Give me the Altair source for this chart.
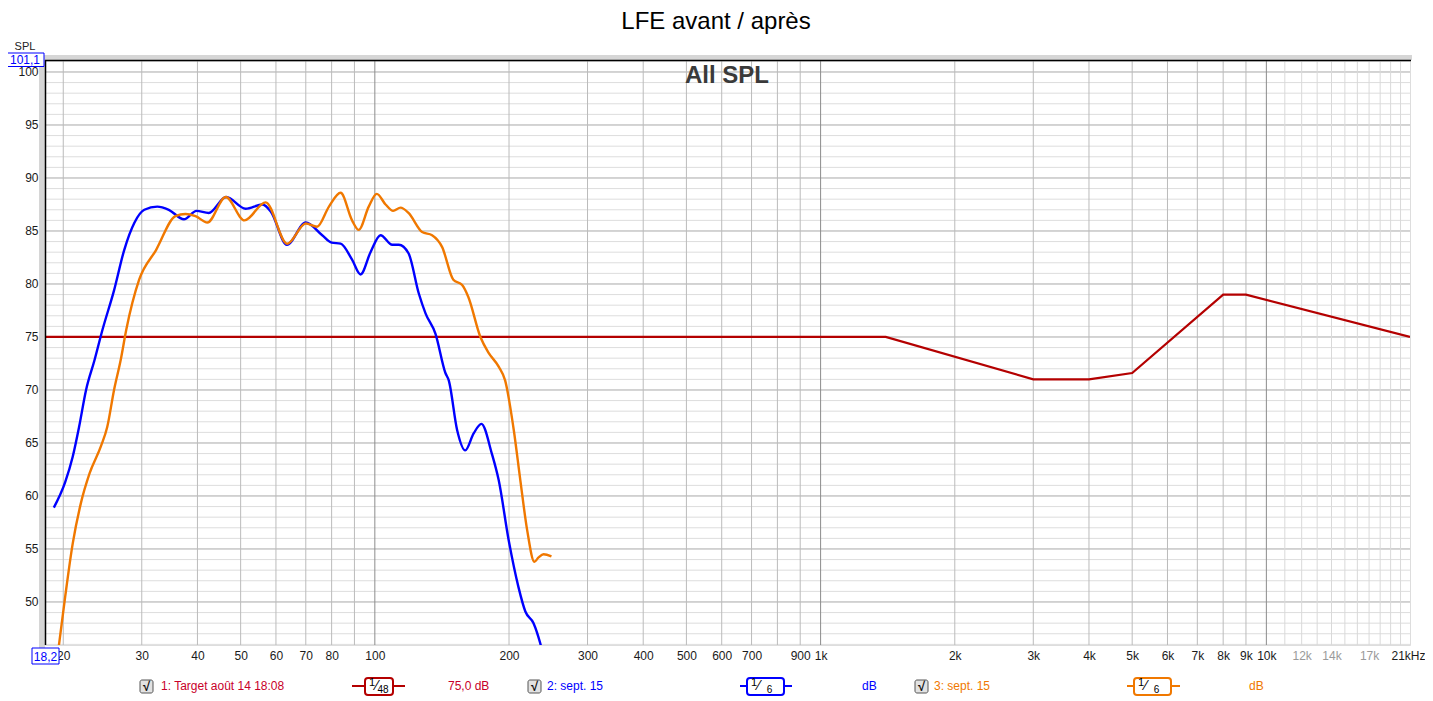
import altair as alt
import pandas as pd

# ---------------- data ----------------
target_f = [18.2, 1400, 3000, 4000, 5000, 8000, 9000, 21000]
target_db = [75.0, 75.0, 71.0, 71.0, 71.6, 79.0, 79.0, 75.0]

blue_f = [19.05, 20.2, 21.0, 21.7, 22.5, 23.5, 24.5, 26.0, 27.4, 28.9, 30.4, 32.5, 34.5,
          37.3, 39.8, 42.4, 46.4, 51.3, 56.0, 58.5, 63.5, 70.0, 76.2, 80.0, 83.8, 88.9,
          92.9, 97.8, 103.0, 109.4, 113.2, 119.0, 125.5, 130.0, 136.8, 144.0, 146.5,
          153.0, 159.5, 166.6, 173.4, 183.0, 189.6, 199.7, 210.0, 217.6, 227.0, 235.0, 238.0]
blue_db = [58.9, 61.3, 63.7, 66.5, 70.0, 72.8, 75.7, 79.4, 83.2, 85.8, 87.0, 87.3, 87.0,
           86.1, 86.9, 86.7, 88.2, 87.1, 87.5, 86.8, 83.7, 85.8, 84.6, 83.9, 83.8, 82.3,
           80.9, 83.0, 84.6, 83.7, 83.7, 82.9, 79.1, 77.2, 75.3, 71.6, 70.9,
           66.2, 64.3, 65.9, 66.8, 64.0, 61.5, 55.8, 51.4, 49.1, 48.0, 46.1, 45.2]

orange_f = [19.5, 20.2, 21.0, 21.9, 22.9, 24.3, 25.1, 26.0, 26.9, 27.7, 29.6, 32.3, 35.7,
            37.6, 39.6, 42.1, 46.3, 51.0, 56.9, 63.6, 70.0, 74.2, 78.9, 83.8, 88.9, 92.0,
            96.9, 101.0, 105.7, 109.9, 114.2, 119.0, 127.7, 134.4, 141.5, 150.0, 157.0,
            162.0, 172.5, 180.0, 189.6, 196.0, 205.0, 212.0, 219.6, 228.0, 233.0, 239.0, 249.0]
orange_db = [45.5, 50.5, 55.5, 59.3, 62.1, 64.7, 66.5, 70.0, 72.8, 75.7, 80.4, 83.2, 86.4,
             86.6, 86.4, 85.8, 88.2, 86.0, 87.7, 83.8, 85.7, 85.4, 87.3, 88.6, 86.0, 85.1,
             87.3, 88.5, 87.5, 86.9, 87.2, 86.7, 84.9, 84.6, 83.5, 80.4, 79.9,
             78.8, 75.0, 73.5, 72.2, 70.9, 66.2, 61.5, 56.8, 53.8, 54.2, 54.5, 54.3]

x_grid_decade = [100, 1000, 10000]
x_grid = [20, 30, 40, 50, 60, 70, 80, 90, 200, 300, 400, 500, 600, 700, 800, 900,
          2000, 3000, 4000, 5000, 6000, 7000, 8000, 9000]
x_grid_light = [11000, 12000, 13000, 14000, 15000, 16000, 17000, 18000, 19000, 20000]
y_grid_minor = list(range(46, 102))
y_grid_major = [50, 55, 60, 65, 70, 75, 80, 85, 90, 95, 100]

x_labels = [20, 30, 40, 50, 60, 70, 80, 100, 200, 300, 400, 500, 600, 700, 900,
            1000, 2000, 3000, 4000, 5000, 6000, 7000, 8000, 9000, 10000,
            12000, 14000, 17000, 21000]
y_labels = [50, 55, 60, 65, 70, 75, 80, 85, 90, 95, 100]

X_DOMAIN = [18.2, 21000]
Y_DOMAIN = [45.94, 101.13]

# ---------------- styling ----------------
FONT = "Liberation Sans"
W, H = 1365, 585
X0, Y0 = 45, 60          # absolute position of plot area in the reference
C_TARGET = "#b40000"
C_TARGET_TXT = "#c8002a"
C_BLUE = "#0000ff"
C_ORANGE = "#f07800"

xs = alt.Scale(type="log", domain=X_DOMAIN, nice=False)
ys = alt.Scale(domain=Y_DOMAIN, nice=False, zero=False)

label_expr = ("datum.value == 21000 ? '21kHz' : (datum.value >= 1000 ? "
              "format(datum.value / 1000, 'd') + 'k' : format(datum.value, 'd'))")

x_axis = alt.Axis(values=x_labels, labelExpr=label_expr, grid=False, ticks=False,
                  domain=False, title=None, labelFont=FONT, labelFontSize=12,
                  labelColor={"condition": {"test": "datum.value == 12000 || datum.value == 14000 || datum.value == 17000",
                                            "value": "#9a9a9a"}, "value": "#1a1a1a"},
                  labelAlign={"condition": {"test": "datum.value == 21000", "value": "right"},
                              "value": "center"},
                  labelOffset={"condition": {"test": "datum.value == 21000", "value": 15},
                               "value": 0},
                  labelPadding=5, labelOverlap=False, labelFlush=False, labelBound=False)
y_axis = alt.Axis(values=y_labels, grid=False, ticks=False, domain=False, title=None,
                  labelFont=FONT, labelFontSize=12, labelColor="#1a1a1a", labelPadding=7)

XE = alt.X("f:Q", scale=xs, axis=x_axis)
YE = alt.Y("db:Q", scale=ys, axis=y_axis)

one = pd.DataFrame({"k": [0]})


def vrules(vals, color, width=1):
    return alt.Chart(pd.DataFrame({"f": vals})).mark_rule(
        color=color, strokeWidth=width).encode(x=XE)


def hrules(vals, color, width=1):
    return alt.Chart(pd.DataFrame({"db": vals})).mark_rule(
        color=color, strokeWidth=width).encode(y=YE)


def rect(ax1, ay1, ax2, ay2, fill, stroke=None, sw=1, radius=0):
    kw = dict(fill=fill, cornerRadius=radius)
    if stroke:
        kw.update(stroke=stroke, strokeWidth=sw)
    return alt.Chart(one).mark_rect(**kw).encode(
        x=alt.value(ax1 - X0), x2=alt.value(ax2 - X0),
        y=alt.value(ay1 - Y0), y2=alt.value(ay2 - Y0))


def hline(ax1, ax2, ay, color, sw=2):
    return alt.Chart(one).mark_rule(color=color, strokeWidth=sw).encode(
        x=alt.value(ax1 - X0), x2=alt.value(ax2 - X0), y=alt.value(ay - Y0))


def txt(s, ax, ay, color="#000000", size=12, align="left", weight="normal", font=FONT):
    return alt.Chart(pd.DataFrame({"t": [s]})).mark_text(
        align=align, baseline="middle", font=font, fontSize=size,
        fontWeight=weight, color=color).encode(
        x=alt.value(ax - X0), y=alt.value(ay - Y0), text="t:N")


# grid
grid = alt.layer(
    hrules(y_grid_minor, "#dddddd"),
    hrules(y_grid_major, "#b9b9b9"),
    vrules(x_grid_light, "#d9d9d9"),
    vrules(x_grid, "#bbbbbb"),
    vrules(x_grid_decade, "#8c8c8c"),
)

target = alt.Chart(pd.DataFrame({"f": target_f, "db": target_db})).mark_line(
    color=C_TARGET, strokeWidth=2.2, clip=True).encode(x=XE, y=YE)

blue = alt.Chart(pd.DataFrame({"f": blue_f, "db": blue_db})).mark_line(
    color=C_BLUE, strokeWidth=2.4, interpolate="monotone", clip=True).encode(x=XE, y=YE)

orange = alt.Chart(pd.DataFrame({"f": orange_f, "db": orange_db})).mark_line(
    color=C_ORANGE, strokeWidth=2.4, interpolate="monotone", clip=True).encode(x=XE, y=YE)

# frame
frame = alt.layer(
    rect(39, 55, 45, 648, "#d6d6d6"),
    rect(39, 55, 1412, 60, "#d6d6d6"),
    hline(45, 1411, 60.5, "#000000", 1.5),
    alt.Chart(one).mark_rule(color="#000000", strokeWidth=1.5).encode(
        x=alt.value(0.5), y=alt.value(0), y2=alt.value(H)),
)

# annotations
annot = alt.layer(
    txt("LFE avant / après", 716, 22, size=24, align="center"),
    txt("All SPL", 727, 76, color="#3a3a3a", size=24, align="center", weight="bold"),
    txt("SPL", 25, 47, color="#222222", size=11, align="center"),
    rect(6, 53, 44, 66.5, "#ffffff", C_BLUE, 1),
    txt("101,1", 25, 60, color=C_BLUE, size=12, align="center"),
    rect(32, 648, 59, 664, "#ffffff", C_BLUE, 1),
    txt("18,2", 45.5, 656.5, color=C_BLUE, size=12, align="center"),
)


def checkbox(ax):
    return alt.layer(
        rect(ax, 680, ax + 13, 693, "#e2e2e2", "#555555", 1, 2),
        txt("√", ax + 6.5, 686.5, color="#111111", size=13, align="center", weight="bold"),
    )


def fracbox(l1, l2, b1, b2, color, denom):
    return alt.layer(
        hline(l1, l2, 686, color, 2),
        rect(b1, 678, b2, 695, "#ffffff", color, 2, 3),
        txt("1", b1 + 7, 683, size=11, align="center"),
        txt("⁄", b1 + 12, 686, size=14, align="center"),
        txt(denom, (b1 + b2) / 2 + 4, 689.5, size=10, align="center"),
    )


legend = alt.layer(
    checkbox(140),
    txt("1: Target août 14 18:08", 161, 686, color=C_TARGET_TXT, size=12),
    fracbox(352, 405, 365, 393, C_TARGET, "48"),
    txt("75,0 dB", 448, 686, color=C_TARGET_TXT, size=12),
    checkbox(528),
    txt("2: sept. 15", 547, 686, color=C_BLUE, size=12),
    fracbox(740, 792, 747, 784, C_BLUE, "6"),
    txt("dB", 862, 686, color=C_BLUE, size=12),
    checkbox(915),
    txt("3: sept. 15", 934, 686, color=C_ORANGE, size=12),
    fracbox(1127, 1180, 1134, 1171, C_ORANGE, "6"),
    txt("dB", 1249, 686, color=C_ORANGE, size=12),
)

chart = alt.layer(grid, target, blue, orange, frame, annot, legend).properties(
    width=W, height=H,
    autosize=alt.AutoSizeParams(type="none"),
    padding={"left": 37, "top": 52, "right": 15, "bottom": 52},
).configure_view(stroke="#a8a8a8", strokeWidth=1).configure(background="#ffffff")

chart.save("out.html", embed_options={"renderer": "svg", "actions": False})
